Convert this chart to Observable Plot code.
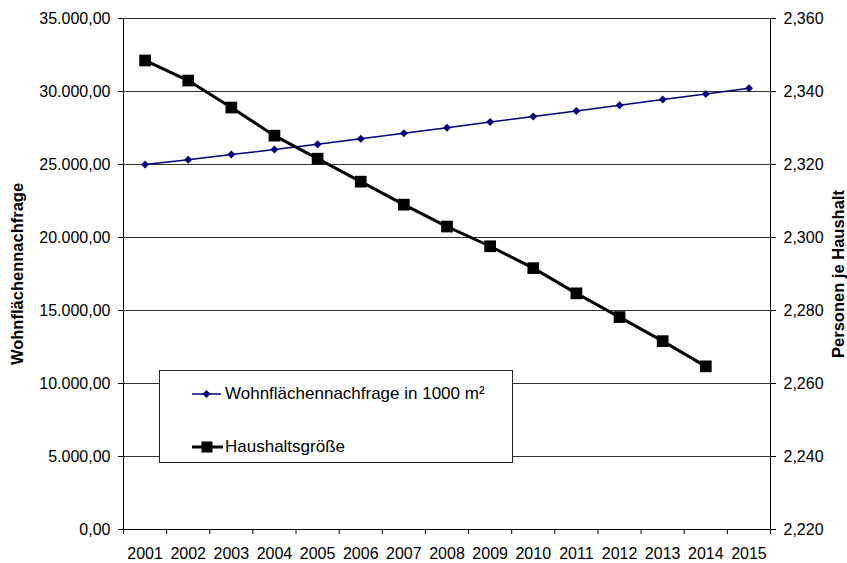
<!DOCTYPE html>
<html>
<head>
<meta charset="utf-8">
<script src="https://cdn.jsdelivr.net/npm/d3@7"></script>
<script src="https://cdn.jsdelivr.net/npm/@observablehq/plot@0.6"></script>
<style>
  body { margin: 0; background: #fff; font-family: "Liberation Sans", Arial, sans-serif; }
  #wrap { position: relative; width: 847px; height: 563px; }
  #legend { position: absolute; left: 159px; top: 370px; width: 354px; height: 93px; box-sizing: border-box;
            border: 1px solid #222; background: #fff; font-size: 17px; color: #000; }
  .entry { position: absolute; left: 32px; height: 20px; display: flex; align-items: center; }
  .entry svg { display: block; margin-right: 2px; }
</style>
</head>
<body>
<div id="wrap"></div>
<script>
// ---- data ----
const years = [2001, 2002, 2003, 2004, 2005, 2006, 2007, 2008, 2009, 2010, 2011, 2012, 2013, 2014, 2015];
const wohnflaeche = [25000, 25330, 25680, 26030, 26390, 26760, 27140, 27520, 27910, 28290, 28670, 29060, 29450, 29830, 30220];
const haushalt = [2.3485, 2.3430, 2.3356, 2.3279, 2.3216, 2.3153, 2.3090, 2.3030, 2.2976, 2.2916, 2.2847, 2.2782, 2.2716, 2.2647, null];
const leftTicks = [0, 5000, 10000, 15000, 20000, 25000, 30000, 35000];
const rightTicks = [2.22, 2.24, 2.26, 2.28, 2.30, 2.32, 2.34, 2.36];
const seriesNames = ["Wohnflächennachfrage in 1000 m²", "Haushaltsgröße"];
const leftTitle = "Wohnflächennachfrage";
const rightTitle = "Personen je Haushalt";

// ---- helpers ----
const de = d3.formatLocale({decimal: ",", thousands: ".", grouping: [3], currency: ["", " €"]});
const fmtLeft = de.format(",.2f");
const fmtRight = de.format(".3f");
const leftMax = 35000, rMin = 2.22, rMax = 2.36;
const toLeft = v => (v - rMin) / (rMax - rMin) * leftMax;
const fromLeft = v => rMin + v / leftMax * (rMax - rMin);

const blue = years.map((year, i) => ({year, value: wohnflaeche[i]}));
const black = years.map((year, i) => ({year, value: haushalt[i]})).filter(d => d.value != null);
const bounds = [years[0] - 0.5, ...years.map(y => y + 0.5)];

const font = "'Liberation Sans', Arial, sans-serif";

const chart = Plot.plot({
  width: 847,
  height: 563,
  marginLeft: 123,
  marginRight: 77,
  marginTop: 18,
  marginBottom: 34,
  style: {fontFamily: font, fontSize: "16px", color: "#000", background: "#fff"},
  x: {type: "linear", domain: [years[0] - 0.5, years[years.length - 1] + 0.5], label: null},
  y: {domain: [0, leftMax], label: null},
  marks: [
    Plot.ruleY(leftTicks, {stroke: "#333", strokeWidth: 1}),
    Plot.ruleX([bounds[0], bounds[bounds.length - 1]], {stroke: "#000"}),
    Plot.ruleY([0], {stroke: "#000"}),
    Plot.axisY(leftTicks, {anchor: "left", tickSize: 5, tickPadding: 8, tickFormat: fmtLeft, label: null, fontSize: 16}),
    Plot.axisY(rightTicks.map(toLeft), {anchor: "right", tickSize: 5, tickPadding: 8, tickFormat: d => fmtRight(fromLeft(d)), label: null, fontSize: 16}),
    Plot.axisX(bounds, {anchor: "bottom", tickSize: 5, tickFormat: () => "", label: null}),
    Plot.axisX(years, {anchor: "bottom", tickSize: 0, tickPadding: 18, tickFormat: d => String(d), label: null, fontSize: 16}),
    Plot.text([leftTitle], {frameAnchor: "left", dx: -105.5, rotate: -90, textAnchor: "middle", lineAnchor: "middle", fontWeight: "bold", fontSize: 16.5, fill: "#000"}),
    Plot.text([rightTitle], {frameAnchor: "right", dx: 68, rotate: -90, textAnchor: "middle", lineAnchor: "middle", fontWeight: "bold", fontSize: 16.5, fill: "#000"}),
    Plot.line(blue, {x: "year", y: "value", stroke: "#000080", strokeWidth: 1.5}),
    Plot.dot(blue, {x: "year", y: "value", symbol: "diamond2", r: 3.6, fill: "#000080", stroke: "none"}),
    Plot.line(black, {x: "year", y: d => toLeft(d.value), stroke: "#000", strokeWidth: 3}),
    Plot.dot(black, {x: "year", y: d => toLeft(d.value), symbol: "square", r: 6.6, fill: "#000", stroke: "none"})
  ]
});

const wrap = document.getElementById("wrap");
wrap.appendChild(chart);

// ---- legend (HTML overlay) ----
const legend = document.createElement("div");
legend.id = "legend";
legend.innerHTML = `
  <div class="entry" style="top:13px">
    <svg width="31" height="14"><line x1="0" y1="7" x2="29" y2="7" stroke="#000080" stroke-width="1.5"/><path d="M14.5,3 L18.5,7 L14.5,11 L10.5,7 Z" fill="#000080"/></svg>
    <span>${seriesNames[0]}</span>
  </div>
  <div class="entry" style="top:66px">
    <svg width="31" height="14"><line x1="0" y1="7" x2="31" y2="7" stroke="#000" stroke-width="3"/><rect x="9.5" y="1.5" width="11" height="11" fill="#000"/></svg>
    <span>${seriesNames[1]}</span>
  </div>`;
wrap.appendChild(legend);
</script>
</body>
</html>
